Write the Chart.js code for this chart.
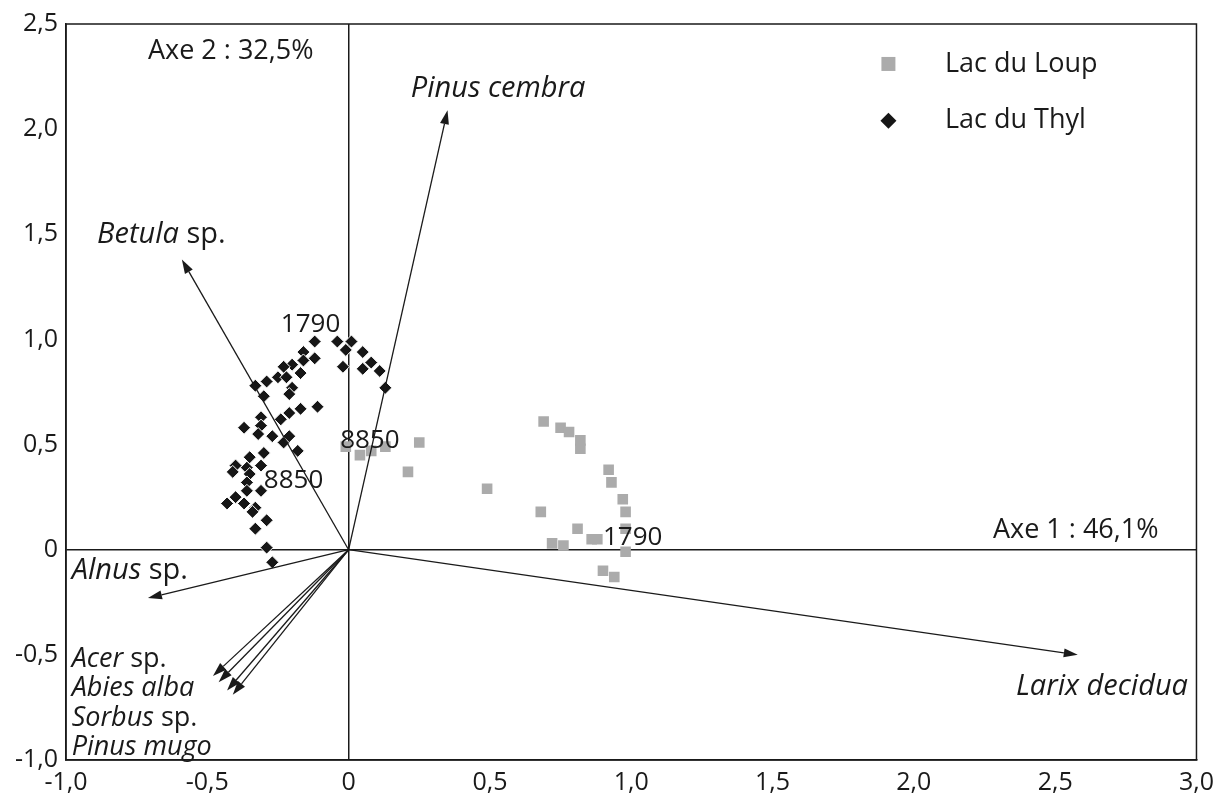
<!DOCTYPE html>
<html>
<head>
<meta charset="utf-8">
<script src="https://cdn.jsdelivr.net/npm/chart.js"></script>
<style>
  html, body { margin: 0; padding: 0; background: #fff; }
  #wrap { width: 1222px; height: 804px; }
</style>
</head>
<body>
<div id="wrap"><canvas id="acpChart" width="1222" height="804"></canvas></div>
<script>
// tick labels (French decimal comma)
const xTickLabels = ["-1,0","-0,5","0","0,5","1,0","1,5","2,0","2,5","3,0"];
const yTickLabels = ["-1,0","-0,5","0","0,5","1,0","1,5","2,0","2,5"];

// Lac du Loup samples (axe 1, axe 2)
const loupX = [-0.01,0.04,0.08,0.13,0.25,0.21,0.49,0.68,0.69,0.75,0.78,0.82,0.82,0.92,0.93,0.97,0.98,0.98,0.98,0.81,0.72,0.76,0.86,0.88,0.90,0.94];
const loupY = [0.49,0.45,0.47,0.49,0.51,0.37,0.29,0.18,0.61,0.58,0.56,0.52,0.48,0.38,0.32,0.24,0.18,0.10,-0.01,0.10,0.03,0.02,0.05,0.05,-0.10,-0.13];

// Lac du Thyl samples (axe 1, axe 2)
const thylX = [-0.12,-0.16,-0.04,-0.01,0.01,0.05,0.08,0.11,0.13,-0.02,0.05,-0.11,-0.12,-0.16,-0.20,-0.23,-0.25,-0.29,-0.33,-0.30,-0.22,-0.20,-0.17,-0.21,-0.17,-0.21,-0.24,-0.31,-0.31,-0.37,-0.32,-0.27,-0.23,-0.21,-0.18,-0.30,-0.35,-0.40,-0.36,-0.31,-0.35,-0.41,-0.36,-0.43,-0.40,-0.36,-0.31,-0.37,-0.33,-0.34,-0.29,-0.33,-0.29,-0.27];
const thylY = [0.99,0.94,0.99,0.95,0.99,0.94,0.89,0.85,0.77,0.87,0.86,0.68,0.91,0.90,0.88,0.87,0.82,0.80,0.78,0.73,0.82,0.77,0.84,0.74,0.67,0.65,0.62,0.63,0.59,0.58,0.55,0.54,0.51,0.54,0.47,0.46,0.44,0.40,0.39,0.40,0.36,0.37,0.32,0.22,0.25,0.28,0.28,0.22,0.20,0.18,0.14,0.10,0.01,-0.06];

// species vectors (arrow tips)
const speciesX = [0.35,-0.59,-0.71,2.58,-0.48,-0.46,-0.43,-0.41];
const speciesY = [2.09,1.38,-0.23,-0.50,-0.60,-0.63,-0.67,-0.69];

// text annotations: [segments, x, y, align, size]
const notes = [
  [[["Axe 2 : 32,5%", false]], -0.71, 2.37, "left", 27],
  [[["Axe 1 : 46,1%", false]], 2.28, 0.09, "left", 27],
  [[["Pinus cembra", true]], 0.22, 2.19, "left", 29],
  [[["Betula", true], [" sp.", false]], -0.89, 1.50, "left", 29],
  [[["Alnus", true], [" sp.", false]], -0.98, -0.10, "left", 29],
  [[["Acer", true], [" sp.", false]], -0.98, -0.52, "left", 27],
  [[["Abies alba", true]], -0.98, -0.66, "left", 27],
  [[["Sorbus", true], [" sp.", false]], -0.98, -0.80, "left", 27],
  [[["Pinus mugo", true]], -0.98, -0.94, "left", 27],
  [[["Larix decidua", true]], 2.97, -0.65, "right", 29],
  [[["1790", false]], -0.24, 1.07, "left", 26],
  [[["8850", false]], -0.30, 0.33, "left", 26],
  [[["8850", false]], -0.03, 0.52, "left", 26],
  [[["1790", false]], 0.90, 0.06, "left", 26]
];

const FONT = "'Open Sans', 'Noto Sans', sans-serif";
const loupColor = "#ababab";
const thylColor = "#161616";

const toPts = (xs, ys) => xs.map((x, i) => ({ x: x, y: ys[i] }));

const overlay = {
  id: "overlay",
  afterDatasetsDraw(chart) {
    const { ctx, chartArea: a, scales: { x, y } } = chart;
    ctx.save();
    // frame
    ctx.strokeStyle = "#1a1a1a";
    ctx.lineWidth = 1.5;
    ctx.strokeRect(a.left, a.top, a.right - a.left, a.bottom - a.top);

    // arrows from origin
    const ox = x.getPixelForValue(0), oy = y.getPixelForValue(0);
    ctx.fillStyle = "#1a1a1a";
    ctx.lineWidth = 1.3;
    speciesX.forEach((sx, i) => {
      const tx = x.getPixelForValue(sx), ty = y.getPixelForValue(speciesY[i]);
      const ang = Math.atan2(ty - oy, tx - ox);
      const hl = 14, hw = 4.5;
      const bx = tx - hl * Math.cos(ang), by = ty - hl * Math.sin(ang);
      ctx.beginPath();
      ctx.moveTo(ox, oy);
      ctx.lineTo(bx, by);
      ctx.stroke();
      ctx.beginPath();
      ctx.moveTo(tx, ty);
      ctx.lineTo(bx + hw * Math.sin(ang), by - hw * Math.cos(ang));
      ctx.lineTo(bx - hw * Math.sin(ang), by + hw * Math.cos(ang));
      ctx.closePath();
      ctx.fill();
    });

    // annotations
    ctx.fillStyle = "#1a1a1a";
    ctx.textBaseline = "middle";
    notes.forEach(([segs, nx, ny, align, size]) => {
      const fonts = segs.map(s => (s[1] ? "italic " : "") + size + "px " + FONT);
      let total = 0;
      const widths = segs.map((s, i) => { ctx.font = fonts[i]; const w = ctx.measureText(s[0]).width; total += w; return w; });
      let px = x.getPixelForValue(nx);
      if (align === "right") px -= total;
      const py = y.getPixelForValue(ny);
      ctx.textAlign = "left";
      segs.forEach((s, i) => { ctx.font = fonts[i]; ctx.fillText(s[0], px, py); px += widths[i]; });
    });

    // legend
    const lx = x.getPixelForValue(1.91), tx = x.getPixelForValue(2.11);
    const ly1 = y.getPixelForValue(2.31), ly2 = y.getPixelForValue(2.04);
    ctx.fillStyle = loupColor;
    ctx.fillRect(lx - 7, ly1 - 7, 14, 14);
    ctx.fillStyle = thylColor;
    ctx.beginPath();
    ctx.moveTo(lx, ly2 - 8); ctx.lineTo(lx + 8, ly2); ctx.lineTo(lx, ly2 + 8); ctx.lineTo(lx - 8, ly2);
    ctx.closePath(); ctx.fill();
    ctx.fillStyle = "#1a1a1a";
    ctx.font = "27px " + FONT;
    ctx.fillText("Lac du Loup", tx, ly1);
    ctx.fillText("Lac du Thyl", tx, ly2);
    ctx.restore();
  }
};

const zeroLine = ctx => (ctx.tick && ctx.tick.value === 0 ? "#1a1a1a" : "rgba(0,0,0,0)");

new Chart(document.getElementById("acpChart"), {
  type: "scatter",
  data: {
    datasets: [
      {
        label: "Lac du Loup",
        data: toPts(loupX, loupY),
        pointStyle: "rect",
        pointRadius: 7.5,
        backgroundColor: loupColor,
        borderColor: loupColor,
        borderWidth: 0
      },
      {
        label: "Lac du Thyl",
        data: toPts(thylX, thylY),
        pointStyle: "rectRot",
        pointRadius: 6.5,
        backgroundColor: thylColor,
        borderColor: "#ffffff",
        borderWidth: 1
      }
    ]
  },
  options: {
    responsive: false,
    animation: false,
    layout: { padding: { top: 24, right: 24, left: 0, bottom: 0 } },
    plugins: { legend: { display: false }, tooltip: { enabled: false } },
    scales: {
      x: {
        type: "linear",
        min: -1, max: 3,
        afterFit: s => { s.height = 44; },
        ticks: {
          stepSize: 0.5,
          padding: 8,
          color: "#1a1a1a",
          font: { family: FONT, size: 25 },
          callback: (v, i) => xTickLabels[i]
        },
        grid: { color: zeroLine, lineWidth: 1.5, drawTicks: false },
        border: { display: true, color: "#1a1a1a", width: 1.5 }
      },
      y: {
        type: "linear",
        min: -1, max: 2.5,
        afterFit: s => { s.width = 66; },
        ticks: {
          stepSize: 0.5,
          padding: 8,
          color: "#1a1a1a",
          font: { family: FONT, size: 25 },
          callback: (v, i) => yTickLabels[i]
        },
        grid: { color: zeroLine, lineWidth: 1.5, drawTicks: false },
        border: { display: true, color: "#1a1a1a", width: 1.5 }
      }
    }
  },
  plugins: [overlay]
});
</script>
</body>
</html>
